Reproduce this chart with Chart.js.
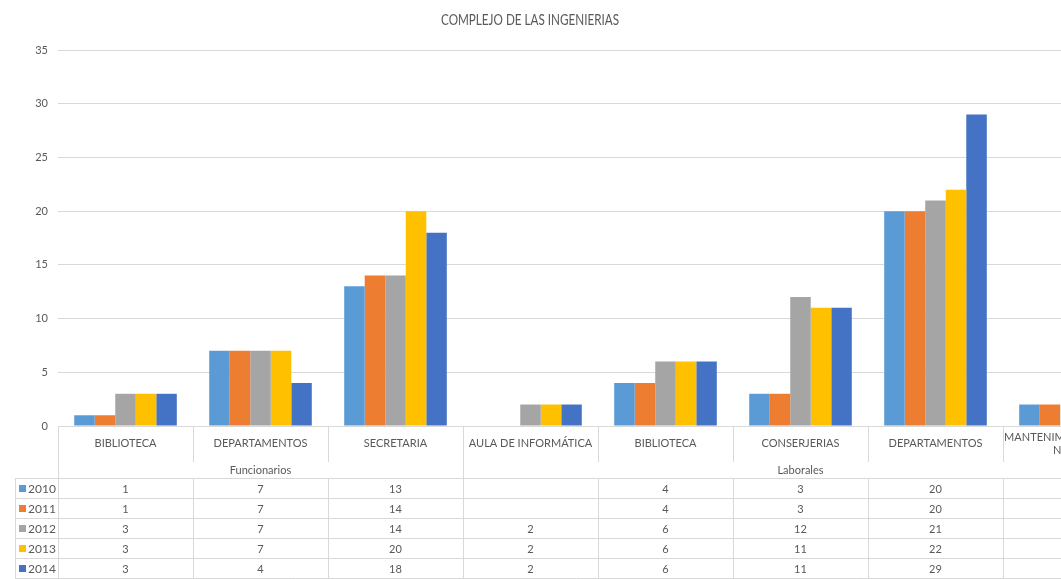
<!DOCTYPE html>
<html>
<head>
<meta charset="utf-8">
<script src="https://cdn.jsdelivr.net/npm/chart.js@4"></script>
<style>
  html, body { margin: 0; padding: 0; background: #fff; overflow: hidden; }
  #wrap { position: relative; width: 1150px; height: 579px; }
</style>
</head>
<body>
<div id="wrap"><canvas id="chart"></canvas></div>
<script>
// data
const categories = [
  ["BIBLIOTECA"], ["DEPARTAMENTOS"], ["SECRETARIA"],
  ["AULA DE INFORMÁTICA"], ["BIBLIOTECA"], ["CONSERJERIAS"], ["DEPARTAMENTOS"],
  ["MANTENIMIENTO DE LAS", "NAVES"]
];
const groups = ["Funcionarios", "Laborales"];
const groupSpans = [[0, 2], [3, 7]];
const years = ["2010", "2011", "2012", "2013", "2014"];
const v2010 = [1, 7, 13, null, 4, 3, 20, 2];
const v2011 = [1, 7, 14, null, 4, 3, 20, 2];
const v2012 = [3, 7, 14, 2, 6, 12, 21, null];
const v2013 = [3, 7, 20, 2, 6, 11, 22, null];
const v2014 = [3, 4, 18, 2, 6, 11, 29, null];
const yTicks = [0, 5, 10, 15, 20, 25, 30, 35];

const colors = ["#5B9BD5", "#ED7D31", "#A5A5A5", "#FFC000", "#4472C4"];
const series = [v2010, v2011, v2012, v2013, v2014];
const textColor = "#595959";
const lineColor = "#d9d9d9";
const font = "Lato, 'Open Sans', sans-serif";

const tablePlugin = {
  id: "dataTable",
  afterDraw(chart) {
    const ctx = chart.ctx;
    const x = chart.scales.x;
    const area = chart.chartArea;
    const cw = x.getPixelForValue(1) - x.getPixelForValue(0);
    const left = area.left, right = area.right;
    const top = area.bottom;
    const catBottom = 462, groupBottom = 479, rowH = 20;
    const bottom = groupBottom + rowH * years.length;
    const keyLeft = 15;

    ctx.save();
    ctx.strokeStyle = lineColor;
    ctx.lineWidth = 1;
    const line = (x1, y1, x2, y2) => {
      ctx.beginPath();
      ctx.moveTo(x1, y1);
      ctx.lineTo(x2, y2);
      ctx.stroke();
    };

    // horizontal lines
    line(left, top + 0.5, right, top + 0.5);
    for (let r = 0; r <= years.length; r++) {
      const y = Math.round(groupBottom + r * rowH) - 0.5;
      line(keyLeft, y, right, y);
    }
    // vertical lines
    line(Math.round(left) + 0.5, top, Math.round(left) + 0.5, bottom);
    line(keyLeft + 0.5, groupBottom, keyLeft + 0.5, bottom);
    for (let i = 1; i <= categories.length; i++) {
      const bx = Math.round(x.getPixelForValue(i) - cw / 2) + 0.5;
      line(bx, top, bx, catBottom);
      line(bx, groupBottom, bx, bottom);
    }
    groupSpans.forEach(s => {
      const bx = Math.round(x.getPixelForValue(s[1]) + cw / 2) + 0.5;
      line(bx, catBottom, bx, groupBottom);
    });

    ctx.fillStyle = textColor;
    ctx.font = "11px " + font;
    ctx.textAlign = "center";
    ctx.textBaseline = "middle";

    // category labels
    categories.forEach((lab, i) => {
      const cx = x.getPixelForValue(i);
      if (lab.length === 1) {
        ctx.fillText(lab[0], cx, 443);
      } else {
        lab.forEach((t, k) => ctx.fillText(t, cx, 437 + k * 13));
      }
    });
    // group labels
    groups.forEach((g, i) => {
      const s = groupSpans[i];
      const cx = (x.getPixelForValue(s[0]) + x.getPixelForValue(s[1])) / 2;
      ctx.fillText(g, cx, 470);
    });
    // values
    series.forEach((vals, r) => {
      const cy = groupBottom + r * rowH + rowH / 2;
      vals.forEach((v, i) => {
        if (v !== null) ctx.fillText(String(v), x.getPixelForValue(i), cy);
      });
      // legend key
      ctx.fillStyle = colors[r];
      ctx.fillRect(19, cy - 4, 7, 7);
      ctx.fillStyle = textColor;
      ctx.textAlign = "left";
      ctx.font = "12px " + font;
      ctx.fillText(years[r], 28, cy);
      ctx.font = "11px " + font;
      ctx.textAlign = "center";
    });

    // title (Calibri-like narrow: squeeze Lato to the original width)
    const title = "COMPLEJO DE LAS INGENIERIAS";
    ctx.font = "15px " + font;
    const tw = ctx.measureText(title).width;
    ctx.translate(530, 20);
    ctx.scale(178 / tw, 1);
    ctx.fillText(title, 0, 0);
    ctx.restore();
  }
};

new Chart(document.getElementById("chart"), {
  type: "bar",
  data: {
    labels: categories,
    datasets: years.map((y, i) => ({
      label: y,
      data: series[i],
      backgroundColor: colors[i],
      borderWidth: 0,
      categoryPercentage: 0.76,
      barPercentage: 1.0
    }))
  },
  options: {
    responsive: true,
    maintainAspectRatio: false,
    animation: false,
    layout: { padding: { top: 50, bottom: 153, left: 0, right: 12 } },
    plugins: {
      legend: { display: false },
      title: { display: false },
      tooltip: { enabled: false }
    },
    scales: {
      x: { display: false },
      y: {
        min: 0,
        max: 35,
        afterFit: s => { s.width = 58; },
        afterBuildTicks: s => { s.ticks = yTicks.map(v => ({ value: v })); },
        ticks: { color: textColor, font: { family: font, size: 11 }, padding: 10 },
        grid: { color: lineColor, drawTicks: false },
        border: { display: false }
      }
    }
  },
  plugins: [tablePlugin]
});
</script>
</body>
</html>
